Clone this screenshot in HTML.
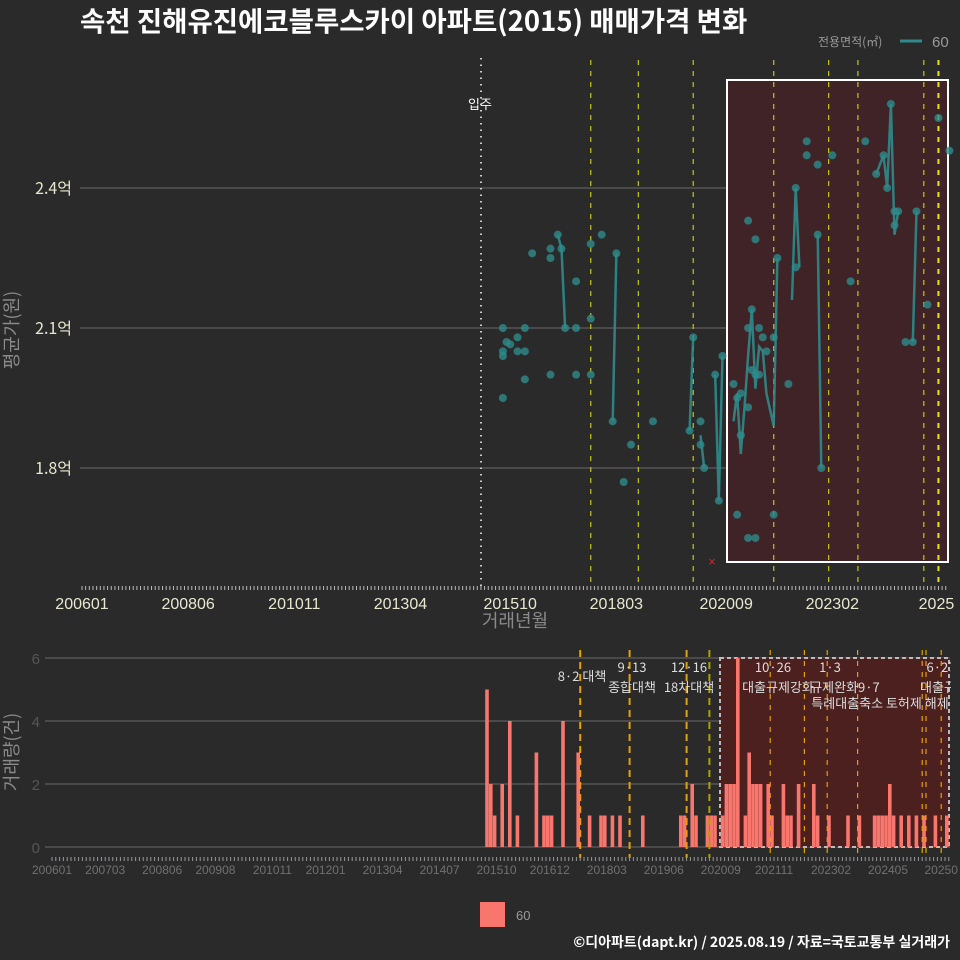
<!DOCTYPE html>
<html><head><meta charset="utf-8">
<style>
html,body{margin:0;padding:0;background:#2a2a2b;}
svg{display:block;font-family:"Liberation Sans","Noto Sans CJK KR",sans-serif;}
</style></head>
<body>
<svg id="c" width="960" height="960" viewBox="0 0 960 960">
<rect width="960" height="960" fill="#2a2a2b"/>
<text x="80" y="31" fill="#ffffff" font-size="27.5" font-weight="bold" font-family="Noto Sans CJK KR, sans-serif">속천 진해유진에코블루스카이 아파트(2015) 매매가격 변화</text>
<g>
<text x="818" y="46" fill="#9a9a9a" font-size="12" font-family="Noto Sans CJK KR, sans-serif">전용면적(㎡)</text>
<line x1="900" y1="41" x2="922" y2="41" stroke="#2e8b8b" stroke-width="3"/>
<text x="932" y="47" fill="#9a9a9a" font-size="15">60</text>
</g>
<g id="topPanel"></g>
<g id="botPanel"></g>
<text x="18" y="330" fill="#8a8a8a" font-size="18" text-anchor="middle" transform="rotate(-90 18 330)" font-family="Noto Sans CJK KR, sans-serif">평균가(원)</text>
<text x="515" y="627" fill="#8a8a8a" font-size="18" text-anchor="middle" font-family="Noto Sans CJK KR, sans-serif">거래년월</text>
<text x="18" y="752" fill="#8a8a8a" font-size="18" text-anchor="middle" transform="rotate(-90 18 752)" font-family="Noto Sans CJK KR, sans-serif">거래량(건)</text>
<rect x="480" y="902" width="25" height="25" fill="#f8766d"/>
<text x="516" y="920" fill="#9a9a9a" font-size="13">60</text>
<text x="950" y="947" fill="#ffffff" font-size="14" font-weight="bold" text-anchor="end" font-family="Noto Sans CJK KR, sans-serif">©디아파트(dapt.kr) / 2025.08.19 / 자료=국토교통부 실거래가</text>
</svg>
<script>
const pointDates=[201508,201508,201508,201508,201509,201510,201512,201512,201602,201602,201602,201604,201609,201609,201609,201611,201612,201701,201704,201704,201704,201708,201708,201708,201711,201802,201803,201805,201807,201901,201911,201912,202002,202002,202003,202006,202007,202008,202011,202012,202101,202103,202101,202012,202103,202105,202110,202103,202105,202104,202103,202106,202107,202108,202110,202104,202105,202106,202111,202202,202204,202204,202207,202207,202210,202210,202211,202302,202307,202311,202402,202404,202405,202406,202407,202408,202407,202410,202412,202501,202504,202507,202510];
const pointValues=[2.10,2.04,2.05,1.95,2.07,2.065,2.08,2.05,2.10,2.05,1.99,2.26,2.27,2.25,2.00,2.30,2.27,2.10,2.20,2.10,2.00,2.28,2.12,2.00,2.30,1.90,2.26,1.77,1.85,1.90,1.88,2.08,1.90,1.85,1.80,2.00,1.73,2.04,1.98,1.95,1.96,1.93,1.87,1.70,1.65,1.65,1.70,2.33,2.29,2.14,2.10,2.10,2.08,2.05,2.08,2.01,2.00,2.00,2.25,1.98,2.40,2.23,2.50,2.47,2.45,2.30,1.80,2.47,2.20,2.50,2.43,2.47,2.40,2.58,2.35,2.35,2.32,2.07,2.07,2.35,2.15,2.55,2.48];
const lineDates=[201611,201612,201701,null,201802,201803,null,201911,201912,null,202002,202003,null,202006,202007,202008,null,202011,202012,202101,202102,202103,202104,202105,202106,202107,202108,202110,202111,null,202203,202204,202205,null,202210,202211,null,202402,202404,202405,202406,202407,202408,null,202412,202501];
const lineValues=[2.30,2.27,2.10,null,1.90,2.26,null,1.88,2.08,null,1.87,1.80,null,2.00,1.73,2.04,null,1.90,1.96,1.83,1.93,2.04,2.14,1.97,2.06,2.05,1.96,1.89,2.25,null,2.16,2.40,2.23,null,2.30,1.80,null,2.43,2.47,2.40,2.58,2.30,2.35,null,2.07,2.35];
const yTicks=[1.8,2.1,2.4];
const yTickLabels=["1.8억","2.1억","2.4억"];
const xTickDates=[200601,200806,201011,201304,201510,201803,202009,202302,202507];
const xTickLabels=["200601","200806","201011","201304","201510","201803","202009","202302","2025"];
const policyDates=[201708,201809,201912,202110,202301,202309,202503,202507];
const barDates=[201507,201508,201509,201511,201601,201603,201608,201610,201611,201612,201703,201707,201710,201801,201802,201804,201806,201812,201910,201911,202001,202002,202005,202006,202007,202009,202010,202011,202012,202101,202103,202104,202105,202106,202107,202109,202110,202201,202202,202203,202205,202209,202210,202301,202306,202309,202401,202402,202403,202404,202405,202406,202408,202410,202412,202502,202505,202508];
const barValues=[5,2,1,2,4,1,3,1,1,1,4,3,1,1,1,1,1,1,1,1,2,1,1,1,1,1,2,2,2,6,1,3,2,2,2,2,1,2,1,1,2,2,1,1,1,1,1,1,1,1,2,1,1,1,1,1,1,1];
const vTicks=[0,2,4,6];
const bTickDates=[200601,200703,200806,200908,201011,201201,201304,201407,201510,201612,201803,201906,202009,202111,202302,202405,202507];
const bTickLabels=["200601","200703","200806","200908","201011","201201","201304","201407","201510","201612","201803","201906","202009","202111","202302","202405","20250"];
const bPolicyDates=[201708,201809,201912,202006,202110,202207,202301,202309,202502,202503,202507];
const NS="http://www.w3.org/2000/svg";
function mi(d){return (Math.floor(d/100)-2006)*12+(d%100)-1;}
function xT(d){return 82+mi(d)*3.66;}
function yT(v){return 468-(v-1.8)*466.7;}
function xB(d){return 52+mi(d)*3.8;}
function yB(v){return 847-v*31.5;}
function mk(p,tag,a){const e=document.createElementNS(NS,tag);for(const k in a)e.setAttribute(k,a[k]);p.appendChild(e);return e;}
const topG=document.getElementById('topPanel'),botG=document.getElementById('botPanel');
yTicks.forEach((v,i)=>{
 let l=mk(topG,'line',{x1:80,x2:948,y1:yT(v),y2:yT(v),stroke:'#6a6a6a','stroke-width':1});
 
 
 let t=mk(topG,'text',{x:72,y:yT(v)+6,fill:'#e8e8d0','font-size':16,'text-anchor':'end','font-family':'Noto Sans CJK KR, sans-serif'});
 t.textContent=yTickLabels[i];
 
 
});
let sr=mk(topG,'rect',{x:727,y:80,width:221,height:482,fill:'#3f2327',stroke:'#ffffff','stroke-width':2});


let mv=mk(topG,'line',{x1:481,x2:481,y1:58,y2:588,stroke:'#cccccc','stroke-width':2,'stroke-dasharray':'1.5 5'});


let mvt=mk(topG,'text',{x:480,y:109,fill:'#ffffff','font-size':13,'text-anchor':'middle','font-family':'Noto Sans CJK KR, sans-serif'});
mvt.textContent='입주';


policyDates.forEach((d,i)=>{
 let last=i==policyDates.length-1;
 let l=mk(topG,'line',{x1:xT(d),x2:xT(d),y1:60,y2:588,stroke:last?'#e8e800':'#c8c800','stroke-width':last?2:1.2,'stroke-dasharray':'5 6'});
 
 
});
for(let m=0;m<=236;m++){mk(topG,'line',{x1:82+m*3.66,x2:82+m*3.66,y1:586,y2:590,stroke:'#bbbbbb','stroke-width':1});}
xTickDates.forEach((d,i)=>{
 let t=mk(topG,'text',{x:xT(d)+(i==xTickDates.length-1?-2:0),y:609,fill:'#e8e8d0','font-size':16,'text-anchor':'middle'});
 t.textContent=xTickLabels[i];
 
 
});
let dstr='',pen=false;
lineDates.forEach((d,i)=>{if(d===null){pen=false;return;}dstr+=(pen?'L':'M')+xT(d).toFixed(1)+' '+yT(lineValues[i]).toFixed(1)+' ';pen=true;});
let pl=mk(topG,'path',{d:dstr,fill:'none',stroke:'#2e8b8b','stroke-width':2.5,opacity:0.9});


pointDates.forEach((d,i)=>{
 let c=mk(topG,'circle',{cx:xT(d),cy:yT(pointValues[i]),r:4,fill:'#2e8b8b','fill-opacity':0.8});
 
 
});
let xm=mk(topG,'text',{x:712,y:566,fill:'#dd2222','font-size':13,'text-anchor':'middle'});
xm.textContent='×';


vTicks.forEach(v=>{
 let l=mk(botG,'line',{x1:45,x2:950,y1:yB(v),y2:yB(v),stroke:'#6a6a6a','stroke-width':1});
 
 
 let t=mk(botG,'text',{x:40,y:yB(v)+6,fill:'#555555','font-size':15,'text-anchor':'end'});
 t.textContent=v;
 
 
});
let br=mk(botG,'rect',{x:720,y:658,width:229,height:189,fill:'#4d2020',stroke:'#bbbbbb','stroke-width':2,'stroke-dasharray':'4 3'});


barDates.forEach((d,i)=>{
 let r=mk(botG,'rect',{x:xB(d),y:yB(barValues[i]),width:3.6,height:barValues[i]*31.5,fill:'#f8766d'});
 
 
});
bPolicyDates.forEach((d,i)=>{
 let early=i<4;
 let l=mk(botG,'line',{x1:xB(d),x2:xB(d),y1:650,y2:858,stroke:i==3?'#b0a000':'#e8a000','stroke-width':early?2:1.2,'stroke-dasharray':early?'7 5':'5 6'});
 
 
});
const ann=[[582,681,'8·2 대책','middle'],[632,672,'9·13','middle'],[632,692,'종합대책','middle'],[689,672,'12·16','middle'],[689,692,'18차대책','middle'],[773,672,'10·26','middle'],[830,672,'1·3','middle'],[778,692,'대출규제강화','middle'],[845,692,'규제완화9·7','middle'],[880,708,'특례대출축소 토허제 해제','middle'],[941,672,'6·27','middle'],[920,692,'대출규제','start']];
const cp=mk(botG,'clipPath',{id:'cl'});mk(cp,'rect',{x:0,y:640,width:951,height:220});
const ag=mk(botG,'g',{'clip-path':'url(#cl)'});
ann.forEach(a=>{
 let t=mk(ag,'text',{x:a[0],y:a[1],fill:'#dddddd','font-size':13,'text-anchor':a[3],'font-family':'Noto Sans CJK KR, sans-serif'});
 t.textContent=a[2];
 
 
});
for(let m=0;m<=236;m++){mk(botG,'line',{x1:52+m*3.8,x2:52+m*3.8,y1:857,y2:861,stroke:'#999999','stroke-width':1});}
bTickDates.forEach((d,i)=>{
 let t=mk(botG,'text',{x:xB(d),y:874,fill:'#707070','font-size':12,'text-anchor':'middle'});
 t.textContent=bTickLabels[i];
 
 
});
</script>
</body></html>
